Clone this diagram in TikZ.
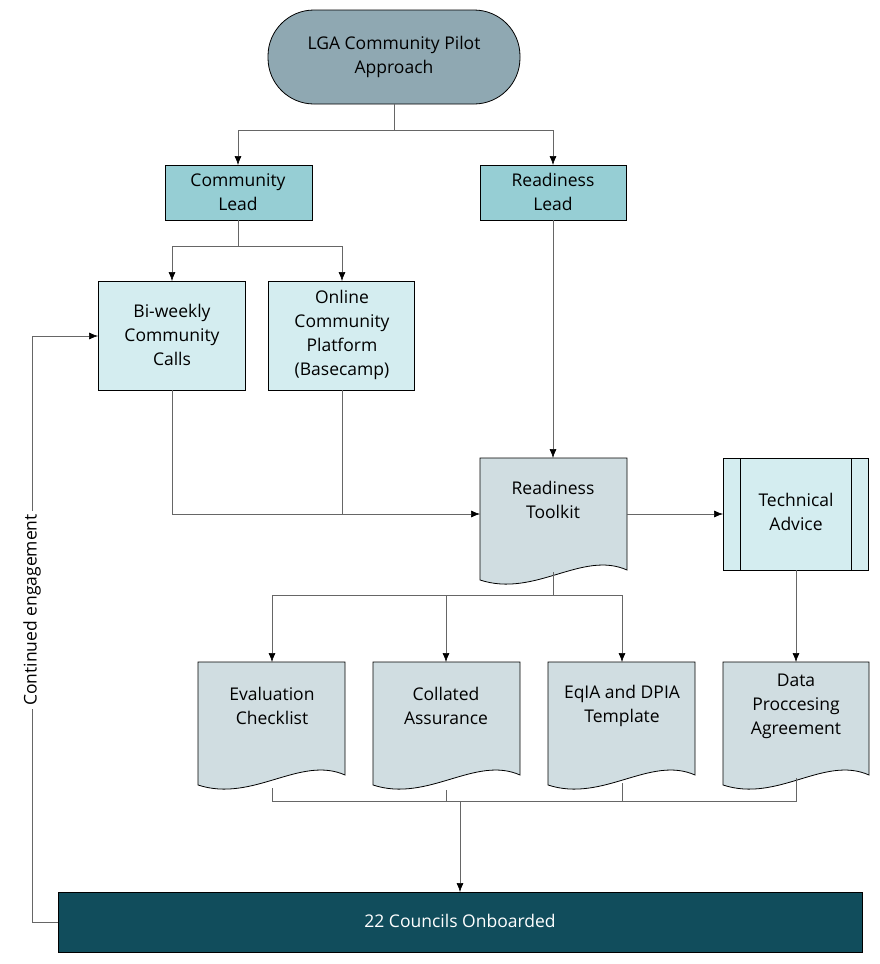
\documentclass[tikz,border=0pt]{standalone}
\usepackage{fontspec}
\setmainfont{Open Sans}
\begin{document}
\begin{tikzpicture}[x=1pt,y=-1pt,
 every node/.style={font=\fontsize{17.5}{24}\selectfont, align=center, inner sep=0pt},
 box/.style={draw=black, line width=0.8pt},
 ln/.style={draw=gray!80!black, line width=0.6pt},
 arr/.style={ln, -{Latex[length=9pt,width=7pt,color=black]}}]
\usetikzlibrary{arrows.meta}
\definecolor{term}{HTML}{8FA8B2}
\definecolor{lead}{HTML}{96CED4}
\definecolor{light}{HTML}{D4EDF0}
\definecolor{doc}{HTML}{D0DDE1}
\definecolor{dark}{HTML}{114D5C}
\useasboundingbox (0,0) rectangle (880,964);
% terminal
\draw[box, fill=term, rounded corners=46pt] (268,10) rectangle (520,104);
\node (t) at (394,57) {LGA Community Pilot\\Approach};
\coordinate (tb) at (394,104);
% leads
\draw[box, fill=lead] (165,165) rectangle (312,220);
\node (cl) at (238,192) {Community\\Lead};
\draw[box, fill=lead] (480,165) rectangle (626,220);
\node (rl) at (553,192) {Readiness\\Lead};
% light boxes
\draw[box, fill=light] (98,281) rectangle (245,390);
\node (bw) at (172,335) {Bi-weekly\\Community\\Calls};
\draw[box, fill=light] (268,281) rectangle (414,390);
\node (oc) at (342,335) {Online\\Community\\Platform\\(Basecamp)};
% technical advice
\draw[box, fill=light] (723,458) rectangle (868,570);
\draw[box] (740,458) -- (740,570) (851,458) -- (851,570);
\node (ta) at (796,512) {Technical\\Advice};
% documents
\newcommand{\docshape}[4]{% x0,y0,x1,y1
 \draw[box, fill=doc] (#1,#2) -- (#3,#2) -- (#3,#4-10) .. controls (#3-45,#4-30) and (#1+55,#4+18) .. (#1,#4) -- cycle;}
\docshape{480}{458}{627}{580}
\node (rt) at (553,500) {Readiness\\Toolkit};
\docshape{198}{662}{345}{785}
\node (ev) at (272,706) {Evaluation\\Checklist};
\docshape{373}{662}{520}{785}
\node (ca) at (446,706) {Collated\\Assurance};
\docshape{548}{662}{695}{785}
\node (eq) at (622,706) {EqIA and DPIA\\Template};
\docshape{723}{662}{869}{785}
\node (dp) at (796,706) {Data\\Proccesing\\Agreement};
% bottom bar
\draw[box, fill=dark] (58,892) rectangle (862,952);
\node[text=white] (cn) at (460,921) {22 Councils Onboarded};
% connectors
\draw[ln] (394,104) -- (394,130) -- (238,130);
\draw[ln] (394,130) -- (553,130);
\draw[arr] (238,130) -- (238,165);
\draw[arr] (553,130) -- (553,165);
\draw[ln] (238,220) -- (238,246) -- (172,246);
\draw[ln] (238,246) -- (342,246);
\draw[arr] (172,246) -- (172,281);
\draw[arr] (342,246) -- (342,281);
\draw[arr] (553,220) -- (553,458);
\draw[arr] (172,390) -- (172,514) -- (480,514);
\draw[ln] (342,390) -- (342,514);
\draw[arr] (627,514) -- (723,514);
\draw[ln] (553,572) -- (553,595) -- (272,595);
\draw[ln] (553,595) -- (622,595);
\draw[arr] (272,595) -- (272,662);
\draw[arr] (446,595) -- (446,662);
\draw[arr] (622,595) -- (622,662);
\draw[arr] (796,570) -- (796,662);
\draw[ln] (272,788) -- (272,801) -- (796,801) -- (796,778);
\draw[ln] (446,790) -- (446,801);
\draw[ln] (622,783) -- (622,801);
\draw[arr] (460,801) -- (460,892);
\draw[arr] (58,922) -- (32,922) -- (32,336) -- (98,336);
\node[fill=white, rotate=90, inner sep=3pt] (ce) at (32,610) {Continued engagement};
\end{tikzpicture}
\end{document}
